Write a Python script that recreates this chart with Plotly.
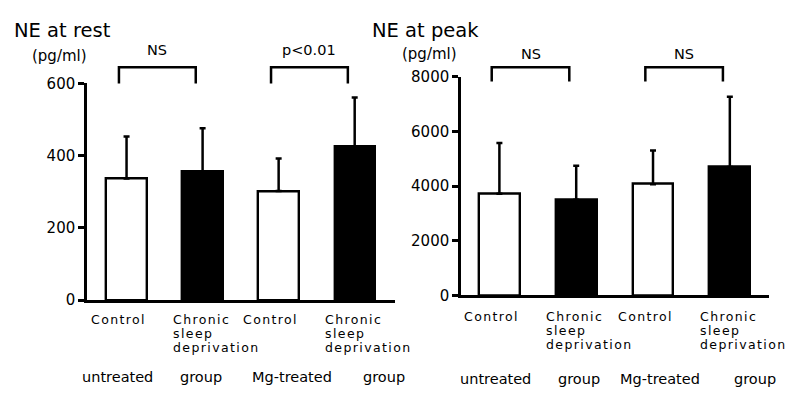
import plotly.graph_objects as go

# ---- data ----
categories = ["Control", "Chronic sleep deprivation", "Control", "Chronic sleep deprivation"]
cat_lines = [["Control"], ["Chronic", "sleep", "deprivation"], ["Control"], ["Chronic", "sleep", "deprivation"]]
bar_colors = ["white", "black", "white", "black"]
rest_mean = [337, 355, 302, 426]
rest_sd = [116, 121, 90, 135]
peak_mean = [3720, 3500, 4070, 4700]
peak_sd = [1860, 1240, 1230, 2570]
rest_ticks = [0, 200, 400, 600]
peak_ticks = [0, 2000, 4000, 6000, 8000]
group_labels = ["untreated", "group", "Mg-treated", "group"]
left_pairs = ["NS", "p<0.01"]
right_pairs = ["NS", "NS"]

FONT = "DejaVu Sans"
W, H = 788, 396
xs = [0, 1, 2, 3]

fig = go.Figure()
for mean, sd, xa, ya in [(rest_mean, rest_sd, "x", "y"), (peak_mean, peak_sd, "x2", "y2")]:
    fig.add_trace(go.Bar(
        x=xs, y=mean, xaxis=xa, yaxis=ya, width=0.53,
        marker=dict(color=bar_colors, line=dict(color="black", width=2.4)),
        error_y=dict(type="data", symmetric=False, array=sd, arrayminus=[0] * 4,
                     color="black", thickness=2.5, width=3),
        showlegend=False, hoverinfo="skip",
    ))

def py(px):
    return 1 - px / H

axis_common = dict(showline=True, linecolor="black", linewidth=2.5, showgrid=False, zeroline=False)
fig.update_layout(
    width=W, height=H, margin=dict(l=0, r=0, t=0, b=0),
    paper_bgcolor="white", plot_bgcolor="white",
    font=dict(family=FONT, color="black"),
    bargap=0,
    xaxis=dict(domain=[87 / W, 395 / W], range=[-0.52, 3.53], anchor="y",
               showticklabels=False, ticks="", **axis_common),
    yaxis=dict(domain=[py(305), py(78)], range=[0, 600], anchor="x",
               tickvals=rest_ticks, ticks="outside", ticklen=6, tickwidth=2.5, tickcolor="black",
               tickfont=dict(size=15, family=FONT, color="black"), **axis_common),
    xaxis2=dict(domain=[461 / W, 769 / W], range=[-0.50, 3.51], anchor="y2",
                showticklabels=False, ticks="", **axis_common),
    yaxis2=dict(domain=[py(300), py(71)], range=[0, 8000], anchor="x2",
                tickvals=peak_ticks, ticks="outside", ticklen=6, tickwidth=2.5, tickcolor="black",
                tickfont=dict(size=15, family=FONT, color="black"), **axis_common),
)

ann = []
# panel titles and units
ann.append(dict(text="NE at rest", x=12 / W, y=py(22), xref="paper", yref="paper",
                xanchor="left", yanchor="middle", showarrow=False, font=dict(size=19.5)))
ann.append(dict(text="NE at peak", x=370 / W, y=py(22), xref="paper", yref="paper",
                xanchor="left", yanchor="middle", showarrow=False, font=dict(size=19.5)))
ann.append(dict(text="(pg/ml)", x=30 / W, y=py(49), xref="paper", yref="paper",
                xanchor="left", yanchor="middle", showarrow=False, font=dict(size=15)))
ann.append(dict(text="(pg/ml)", x=400 / W, y=py(47), xref="paper", yref="paper",
                xanchor="left", yanchor="middle", showarrow=False, font=dict(size=15)))

def spaced(t):
    return f'<span style="letter-spacing:1.4px">{t}</span>'

# category labels, one annotation per line
for xa, ytop in [("x", 325), ("x2", 322)]:
    for i, lines in enumerate(cat_lines):
        for j, line in enumerate(lines):
            if len(lines) == 1:
                ann.append(dict(text=spaced(line), x=xs[i], xref=xa, y=py(ytop), yref="paper",
                                xanchor="center", yanchor="middle", xshift=-8, showarrow=False,
                                font=dict(size=12.5)))
            else:
                ann.append(dict(text=spaced(line), x=xs[i], xref=xa, y=py(ytop + 14.8 * j), yref="paper",
                                xanchor="left", yanchor="middle", xshift=-32, showarrow=False,
                                font=dict(size=12.5)))

# group labels
left_gx = [-0.12, 0.98, 2.18, 3.39]
right_gx = [-0.05, 1.04, 2.09, 3.33]
for xa, gx, yy in [("x", left_gx, 386), ("x2", right_gx, 388)]:
    for lab, xv in zip(group_labels, gx):
        ann.append(dict(text=lab, x=xv, xref=xa, y=py(yy), yref="paper",
                        xanchor="center", yanchor="middle", showarrow=False, font=dict(size=14.5)))

# brackets and significance labels
shapes = []
for xa, labels, top, bot, ty in [("x", left_pairs, 61, 78, 43), ("x2", right_pairs, 61, 76, 47)]:
    for k, lab in enumerate(labels):
        x0 = xs[2 * k] - 0.10
        x1 = xs[2 * k + 1] - 0.09
        shapes.append(dict(type="path", xref=xa, yref="paper",
                           path=f"M {x0} {py(bot)} L {x0} {py(top)} L {x1} {py(top)} L {x1} {py(bot)}",
                           line=dict(color="black", width=2.5)))
        ann.append(dict(text=lab.replace("<", "&lt;"), x=(x0 + x1) / 2, xref=xa, y=py(ty), yref="paper",
                        xanchor="center", yanchor="middle", showarrow=False, font=dict(size=14.5)))

fig.update_layout(annotations=ann, shapes=shapes)

fig.write_html("out.html", config={"displayModeBar": False},
               post_script="document.body.style.margin='0';")
